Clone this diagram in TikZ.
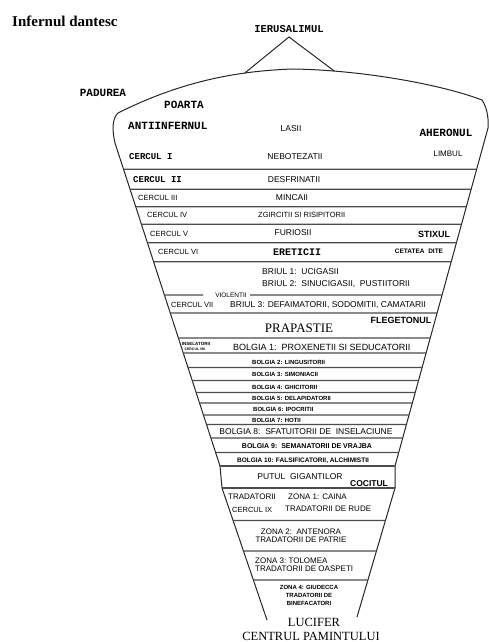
\documentclass[tikz,border=0pt]{standalone}
\usepackage{fontspec}
\setmainfont{Liberation Serif}
\setsansfont{Liberation Sans}
\setmonofont{Liberation Mono}
\usepackage{tikz}
\usetikzlibrary{calc}
\tikzset{
    bordo/.style={line width=1pt, black!85}, % contorno dell'imbuto
    riga/.style={line width=1.3pt, black!70}, % linee tra i cerchi
    antico/.style={font=\ttfamily\bfseries\fontsize{#1}{#1}\selectfont, inner sep=0pt},
    antico/.default=11,
    testo/.style={font=\sffamily\fontsize{#1}{#1}\selectfont, inner sep=0pt},
    testo/.default=8.5,
    grassetto/.style={font=\sffamily\bfseries\fontsize{#1}{#1}\selectfont, inner sep=0pt},
    grassetto/.default=6,
    classico/.style={font=\rmfamily\fontsize{#1}{#1}\selectfont, inner sep=0pt},
    classico/.default=12.5,
}

\begin{document}
\begin{tikzpicture}[x=1pt, y=-1pt]
        \useasboundingbox (0,0) rectangle (488,642);

        % Titolo
        \node[anchor=west, font=\rmfamily\bfseries\fontsize{15}{15}\selectfont, inner sep=0pt] (titolo) at (12,21) {Infernul dantesc};

        % Contorno dell'imbuto
        \coordinate (L1) at (115,143);
        \coordinate (L2) at (220,466);
        \coordinate (L3) at (222,488);
        \coordinate (L4) at (267,620);
        \coordinate (R1) at (488,128);
        \coordinate (R2) at (395,466);
        \coordinate (R3) at (395,488);
        \coordinate (R4) at (357,617);
        \draw[bordo] (L4) -- (L3) -- (L2) -- (L1)
            .. controls (112,130) and (112,119) .. (118,113)
            .. controls (180,82) and (235,71) .. coordinate[pos=0.72] (baseS) (293,69)
            .. controls (360,70) and (440,84) .. coordinate[pos=0.2] (baseD) (482,100)
            .. controls (486,106) and (489,116) .. (R1) -- (R2) -- (R3) -- (R4);

        % Ierusalimul sopra la terra
        \coordinate (vetta) at (289,37);
        \draw[bordo] (baseS) -- (vetta) -- (baseD);
        \node[antico=10.5] (ierusalim) at (289,29) {IERUSALIMUL};

        % Righe tra i cerchi
        \foreach \y in {169.3,189.3,206.7,224.3,242.7,261.7,313,338,353,367.5,380.5,392.5,403,415,424.5,438,452.5,466}
            \draw[riga] ($(L1)!{(\y-143)/323}!(L2)$) -- ($(R1)!{(\y-128)/338}!(R2)$);
        \foreach \y in {488,520.5,551,580}
            \draw[riga] ($(L3)!{(\y-488)/132}!(L4)$) -- ($(R3)!{(\y-488)/129}!(R4)$);

        % Vestibolo
        \node[antico] (padurea) at (103,93) {PADUREA};
        \node[antico] (poarta) at (184,105) {POARTA};
        \node[antico, anchor=west] (antiinfernul) at (128,126) {ANTIINFERNUL};
        \node[testo] (lasii) at (291,129) {LASII};
        \node[antico] (aheronul) at (446,133) {AHERONUL};

        % Cerchi I - VI
        \node[antico=9, anchor=west] (cerc1) at (129,157) {CERCUL I};
        \node[testo] (nebotezatii) at (295,157) {NEBOTEZATII};
        \node[testo=8] (limbul) at (448,154) {LIMBUL};
        \node[antico=9, anchor=west] (cerc2) at (133,180) {CERCUL II};
        \node[testo] (desfrinatii) at (294,180) {DESFRINATII};
        \node[testo=7.5, anchor=west] (cerc3) at (138,198) {CERCUL III};
        \node[testo] (mincaii) at (292,198) {MINCAII};
        \node[testo=7.5, anchor=west] (cerc4) at (147,215) {CERCUL IV};
        \node[testo=7.5, anchor=west] (zgircitii) at (258,215) {ZGIRCITII SI RISIPITORII};
        \node[testo=7.5, anchor=west] (cerc5) at (150,234) {CERCUL V};
        \node[testo] (furiosii) at (293,233) {FURIOSII};
        \node[grassetto=9] (stixul) at (434,234) {STIXUL};
        \node[testo=7.5, anchor=west] (cerc6) at (158,252) {CERCUL VI};
        \node[antico=10] (ereticii) at (297,252) {ERETICII};
        \node[grassetto=6.5] (dite) at (419,251) {CETATEA\ \ DITE};

        % Cerchio VII
        \node[testo, anchor=west] (briul1) at (262,272) {BRIUL 1:\ \ UCIGASII};
        \node[testo, anchor=west] (briul2) at (262,284) {BRIUL 2:\ \ SINUCIGASII,\ \ PUSTIITORII};
        \node[testo=6.5] (violentii) at (231,295) {VIOLENTII};
        \coordinate (vs) at (203,295);
        \coordinate (vd) at (250,295);
        \draw[riga] ($(L1)!{(295-143)/323}!(L2)$) -- (vs);
        \draw[riga] (vd) -- ($(R1)!{(295-128)/338}!(R2)$);
        \node[testo=7.5, anchor=west] (cerc7) at (171,305) {CERCUL VII};
        \node[testo, anchor=west] (briul3) at (230,305) {BRIUL 3: DEFAIMATORII, SODOMITII, CAMATARII};
        \node[classico=13] (prapastie) at (299,328) {PRAPASTIE};
        \node[grassetto=9] (flegetonul) at (401,320) {FLEGETONUL};

        % Cerchio VIII
        \node[grassetto=4.5] (inselatorii) at (196,344) {INSELATORII};
        \node[grassetto=3.5] (cerc8) at (195,349) {CERCUL VIII};
        \node[testo=9, anchor=west] (bolgia1) at (233,347) {BOLGIA 1:\ \ PROXENETII SI SEDUCATORII};
        \node[grassetto, anchor=west] (bolgia2) at (252,362) {BOLGIA 2: LINGUSITORII};
        \node[grassetto, anchor=west] (bolgia3) at (252,374) {BOLGIA 3: SIMONIACII};
        \node[grassetto, anchor=west] (bolgia4) at (252,387) {BOLGIA 4: GHICITORII};
        \node[grassetto, anchor=west] (bolgia5) at (252,398) {BOLGIA 5: DELAPIDATORII};
        \node[grassetto, anchor=west] (bolgia6) at (253,409.5) {BOLGIA 6: IPOCRITII};
        \node[grassetto, anchor=west] (bolgia7) at (252,420) {BOLGIA 7: HOTII};
        \node[testo] (bolgia8) at (306,432) {BOLGIA 8:\ \ SFATUITORII DE\ \ INSELACIUNE};
        \node[grassetto=7] (bolgia9) at (307,446) {BOLGIA 9:\ \ SEMANATORII DE VRAJBA};
        \node[grassetto=6.5] (bolgia10) at (303,460.5) {BOLGIA 10: FALSIFICATORII, ALCHIMISTII};

        % Pozzo dei giganti
        \node[testo] (putul) at (300,477) {PUTUL\ \ GIGANTILOR};
        \node[grassetto=8.5] (cocitul) at (369,484) {COCITUL};

        % Cerchio IX
        \node[testo=8, anchor=west] (tradatorii) at (228,497) {TRADATORII};
        \node[testo=8, anchor=west] (zona1) at (288,497) {ZONA 1: CAINA};
        \node[testo=7.5, anchor=west] (cerc9) at (232,510) {CERCUL IX};
        \node[testo=8, anchor=west] (rude) at (285,509) {TRADATORII DE RUDE};
        \node[testo=8] (zona2) at (301,537) {\begin{tabular}{@{}c@{}}
                         ZONA 2:\ \ ANTENORA \\
                         TRADATORII DE PATRIE
                         \end{tabular}};
        \node[testo=8, anchor=west] (zona3) at (255,565.5) {\begin{tabular}{@{}l@{}}
                         ZONA 3:\ TOLOMEA \\
                         TRADATORII DE OASPETI
                         \end{tabular}};
        \node[grassetto, font=\sffamily\bfseries\fontsize{6}{8}\selectfont] (zona4) at (309,596) {\begin{tabular}{@{}c@{}}
                         ZONA 4: GIUDECCA \\
                         TRADATORII DE \\
                         BINEFACATORI
                         \end{tabular}};

        % Centro della terra
        \node[classico] (lucifer) at (314,622) {LUCIFER};
        \node[classico] (centrul) at (311,636) {CENTRUL PAMINTULUI};
    \end{tikzpicture}
\end{document}
